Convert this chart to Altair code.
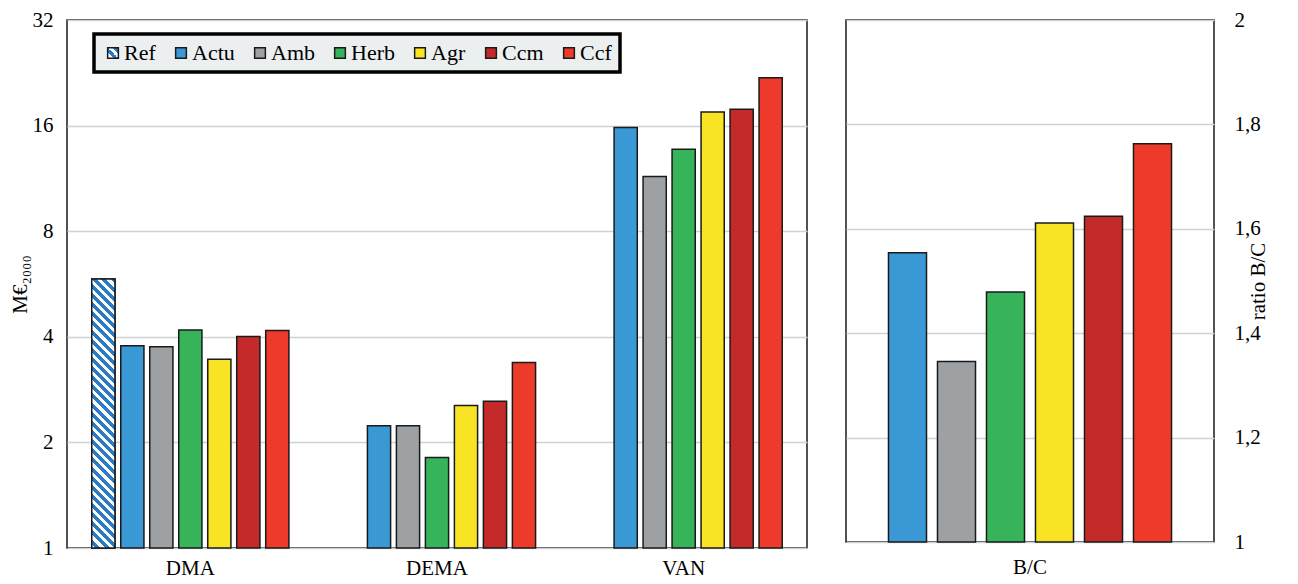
import altair as alt
import pandas as pd
import math

# ---------------- data ----------------
groups = ["DMA", "DEMA", "VAN"]
series = ["Ref", "Actu", "Amb", "Herb", "Agr", "Ccm", "Ccf"]
colors = ["#2b7bc6", "#3a99d4", "#9ea1a4", "#37b35a", "#f8e424", "#c52a2b", "#ed3a2a"]

ref_vals = [5.85, None, None]
actu_vals = [3.77, 2.23, 15.8]
amb_vals = [3.75, 2.23, 11.46]
herb_vals = [4.18, 1.81, 13.7]
agr_vals = [3.45, 2.55, 17.5]
ccm_vals = [4.01, 2.62, 17.8]
ccf_vals = [4.17, 3.38, 21.9]

bc_series = ["Actu", "Amb", "Herb", "Agr", "Ccm", "Ccf"]
bc_vals = [1.554, 1.346, 1.479, 1.611, 1.624, 1.763]

left_ticks = [1, 2, 4, 8, 16, 32]
right_ticks = [1, 1.2, 1.4, 1.6, 1.8, 2]

FONT = "Liberation Serif"

# ---------------- tables ----------------
all_vals = [ref_vals, actu_vals, amb_vals, herb_vals, agr_vals, ccm_vals, ccf_vals]
rows = []
for s, vals in zip(series, all_vals):
    for g, v in zip(groups, vals):
        if v is not None:
            rows.append({"group": g, "series": s, "value": v})
df = pd.DataFrame(rows)
df_bc = pd.DataFrame({"cat": ["B/C"] * len(bc_series), "series": bc_series, "value": bc_vals})

# ---------------- layout ----------------
LW, LH = 740, 528
RW, RH = 368, 522
X_PAD_IN, X_PAD_OUT = 0.2, 0.854

# hatch gradient for the Ref bar (stripes at 45 degrees)
step = (LW / 3) / (7 - X_PAD_IN + 2 * X_PAD_OUT)
bw = step * (1 - X_PAD_IN)
bh = LH * math.log2(ref_vals[0]) / 5
k = (bw + bh) / (bw * bw + bh * bh)
n_periods = int(round((bw + bh) / 9.0))
hatch_blue = "#2b7bc6"
stops = []
for i in range(n_periods):
    a = i / n_periods
    m = (i + 0.55) / n_periods
    b = (i + 1) / n_periods
    stops += [
        alt.GradientStop(color=hatch_blue, offset=a),
        alt.GradientStop(color=hatch_blue, offset=m),
        alt.GradientStop(color="white", offset=m),
        alt.GradientStop(color="white", offset=b),
    ]
hatch = alt.LinearGradient(gradient="linear", stops=stops, x1=1, y1=0, x2=1 - k * bw, y2=k * bh)

legend_ref_expr = (
    "{gradient:'linear',x1:1,y1:0,x2:0,y2:1,stops:["
    "{offset:0,color:'#2b7bc6'},{offset:0.3,color:'#2b7bc6'},"
    "{offset:0.3,color:'white'},{offset:0.5,color:'white'},"
    "{offset:0.5,color:'#2b7bc6'},{offset:0.72,color:'#2b7bc6'},"
    "{offset:0.72,color:'white'},{offset:1,color:'white'}]}"
)
left_range = [alt.ExprRef(expr=legend_ref_expr)] + colors[1:]

x_left = alt.X("group:N", sort=groups, title=None,
               scale=alt.Scale(paddingInner=0, paddingOuter=0),
               axis=alt.Axis(labelAngle=0, ticks=False, domain=False, labelPadding=9,
                             labelFontSize=21, grid=False))
xoff_left = alt.XOffset("series:N", sort=series,
                        scale=alt.Scale(domain=series, paddingInner=X_PAD_IN, paddingOuter=X_PAD_OUT))
y_left = alt.Y("value:Q", title="M€₂₀₀₀",
               scale=alt.Scale(type="log", base=2, domain=[1, 32], nice=False),
               axis=alt.Axis(values=left_ticks, format="d", ticks=False, domain=False,
                             labelPadding=14, titlePadding=2, grid=True,
                             gridColor="#cdd2d4", gridWidth=1.5))
y2_left = alt.Y2Datum(1)

bars_left = alt.Chart(df).mark_bar(stroke="#1a1a1a", strokeWidth=1.5).encode(
    x=x_left,
    xOffset=xoff_left,
    y=y_left,
    y2=y2_left,
    color=alt.Color("series:N", sort=series,
                    scale=alt.Scale(domain=series, range=left_range),
                    legend=alt.Legend(title=None, orient="none", legendX=27, legendY=14,
                                      direction="horizontal", columns=7,
                                      symbolType="square", symbolSize=115,
                                      symbolStrokeColor="#1a1a1a", symbolStrokeWidth=1.5,
                                      labelFontSize=22, labelFontWeight="normal",
                                      labelOffset=0, columnPadding=14,
                                      padding=8, fillColor="#eceff0",
                                      strokeColor="black")),
)

ref_overlay = alt.Chart(df).transform_filter(alt.datum.series == "Ref").mark_bar(
    fill=hatch, stroke="#1a1a1a", strokeWidth=1.5
).encode(x=x_left, xOffset=xoff_left, y=y_left, y2=y2_left)

left = alt.layer(bars_left, ref_overlay).properties(width=LW, height=LH)

right = alt.Chart(df_bc).mark_bar(stroke="#1a1a1a", strokeWidth=1.5).encode(
    x=alt.X("cat:N", title=None,
            scale=alt.Scale(paddingInner=0, paddingOuter=0),
            axis=alt.Axis(labelAngle=0, ticks=False, domain=False, labelPadding=14,
                          labelFontSize=21, grid=False)),
    xOffset=alt.XOffset("series:N", sort=bc_series,
                        scale=alt.Scale(domain=bc_series, paddingInner=0.224, paddingOuter=0.867)),
    y=alt.Y("value:Q", title="ratio B/C",
            scale=alt.Scale(domain=[1, 2], nice=False, zero=False),
            axis=alt.Axis(orient="right", values=right_ticks, ticks=False, domain=False,
                          labelPadding=20, titlePadding=8, titleAngle=270,
                          labelExpr="replace(format(datum.value, '.1~f'), '.', ',')",
                          grid=True, gridColor="#cdd2d4", gridWidth=1.5)),
    y2=alt.Y2Datum(1),
    color=alt.Color("series:N", sort=bc_series,
                    scale=alt.Scale(domain=bc_series, range=colors[1:]),
                    legend=None),
).properties(width=RW, height=RH)

chart = alt.hconcat(left, right, spacing=37).resolve_scale(
    color="independent", x="independent", y="independent", xOffset="independent"
).properties(
    padding=0
).configure(
    font=FONT
).configure_view(
    stroke="#1a1a1a", strokeWidth=1.5
).configure_axis(
    labelFont=FONT, titleFont=FONT, labelColor="black", titleColor="black",
    labelFontSize=21, titleFontSize=21, titleFontWeight="normal"
).configure_legend(
    labelFont=FONT, labelColor="black", strokeWidth=3.5
)

chart.save("out.html", embed_options={"renderer": "svg", "actions": False})
